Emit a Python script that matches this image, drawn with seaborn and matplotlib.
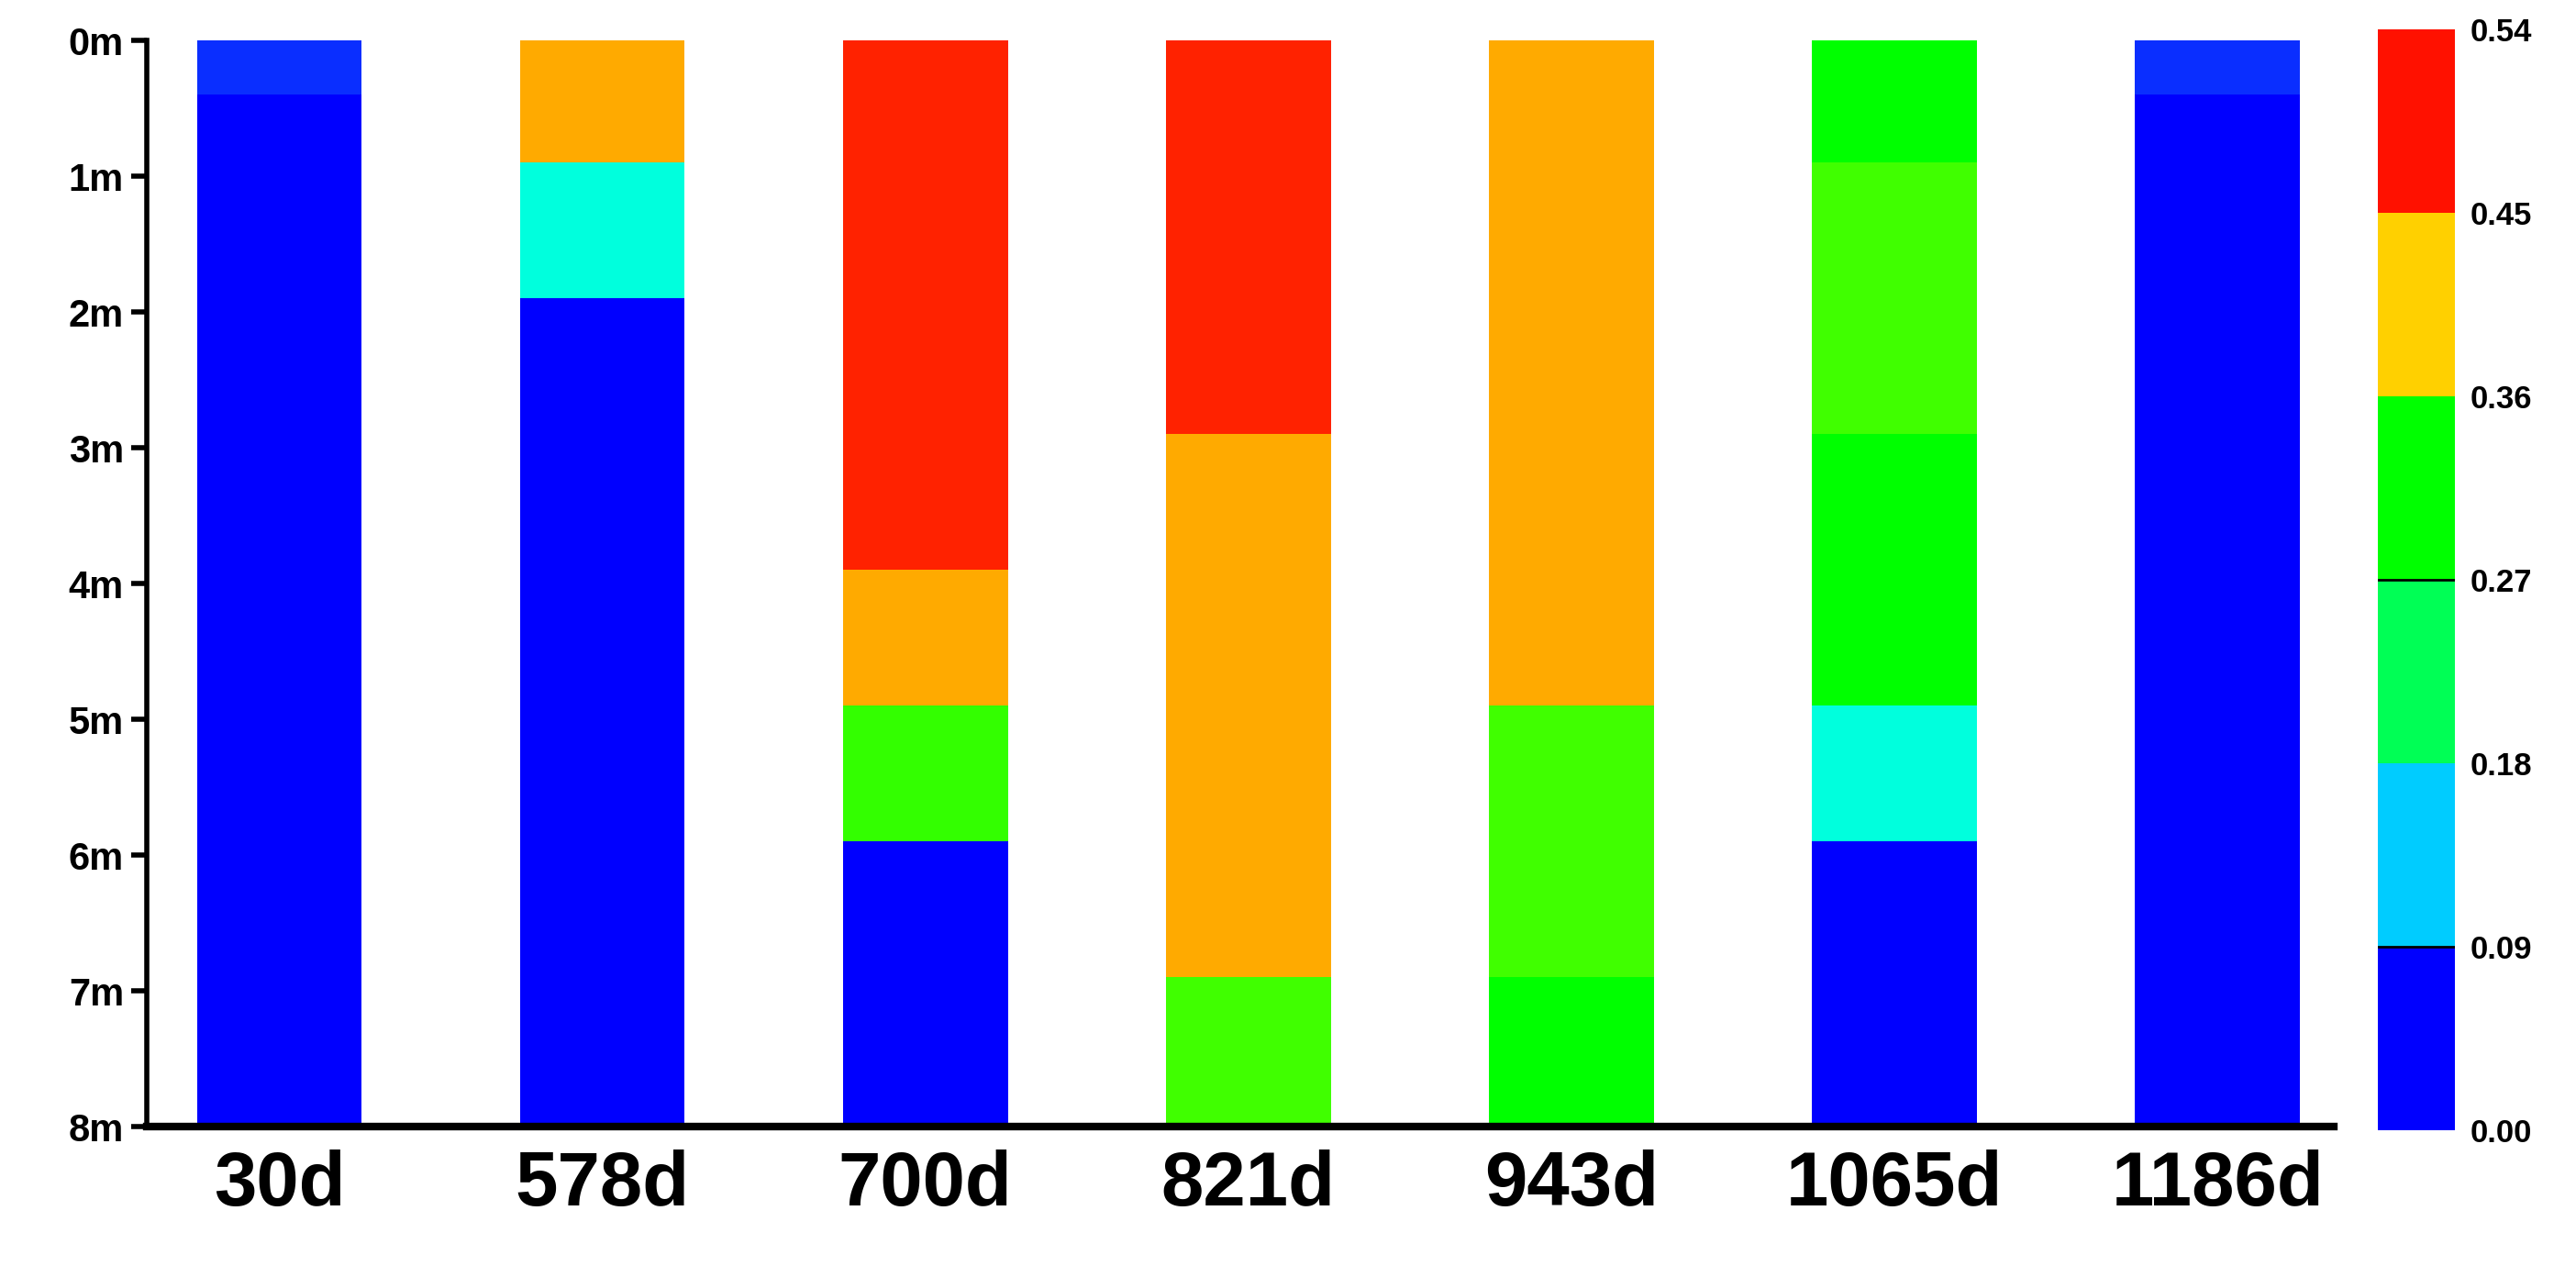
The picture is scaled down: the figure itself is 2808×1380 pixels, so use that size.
import matplotlib
matplotlib.use('Agg')
import matplotlib.pyplot as plt
import seaborn as sns
from matplotlib.colors import ListedColormap, BoundaryNorm
from matplotlib.colorbar import ColorbarBase

sns.set_style('white')
plt.rcParams['font.family'] = ['Liberation Sans', 'DejaVu Sans']
plt.rcParams['font.weight'] = 'bold'
plt.rcParams['text.color'] = 'black'
plt.rcParams['xtick.color'] = 'black'
plt.rcParams['ytick.color'] = 'black'

days = ['30d', '578d', '700d', '821d', '943d', '1065d', '1186d']

# segment boundaries (depth in m) and colours, top to bottom
seg_depths = [
    [0, 0.4, 7.97],
    [0, 0.9, 1.9, 7.97],
    [0, 3.9, 4.9, 5.9, 7.97],
    [0, 2.9, 6.9, 7.97],
    [0, 4.9, 6.9, 7.97],
    [0, 0.9, 2.9, 4.9, 5.9, 7.97],
    [0, 0.4, 7.97],
]
seg_colors = [
    ['#0A2EFF', '#0000FF'],
    ['#FFAA00', '#00FFDD', '#0000FF'],
    ['#FF2200', '#FFAA00', '#33FF00', '#0000FF'],
    ['#FF2200', '#FFAA00', '#40FF00'],
    ['#FFAA00', '#40FF00', '#00FF00'],
    ['#00FF00', '#40FF00', '#00FF00', '#00FFDD', '#0000FF'],
    ['#0A2EFF', '#0000FF'],
]

cbar_bounds = [0.00, 0.09, 0.18, 0.27, 0.36, 0.45, 0.54]
cbar_colors = ['#0000FF', '#00CCFF', '#00FF55', '#00FF00', '#FFD000', '#FF1100']

fig = plt.figure(figsize=(28.08, 13.8), dpi=100)
ax = fig.add_axes([0.057, 0.11, 0.849, 0.858])

for i, (d, c) in enumerate(zip(seg_depths, seg_colors)):
    for k in range(len(c)):
        ax.bar(i, d[k + 1] - d[k], bottom=d[k], width=0.51, color=c[k], linewidth=0)

ax.set_xlim(-0.41, 6.36)
ax.set_ylim(8, 0)
ax.set_yticks(range(9))
ax.set_yticklabels([f'{v}m' for v in range(9)], fontsize=30, fontweight='bold')
ax.set_xticks(range(len(days)))
ax.set_xticklabels(days, fontsize=60, fontweight='bold')
for s in ['top', 'right']:
    ax.spines[s].set_visible(False)
ax.spines['left'].set_linewidth(4)
ax.spines['bottom'].set_linewidth(6)
ax.spines['left'].set_color('black')
ax.spines['bottom'].set_color('black')
ax.tick_params(axis='y', left=True, length=12, width=4, pad=6)
ax.tick_params(axis='x', bottom=False, pad=14)

cax = fig.add_axes([0.923, 0.107, 0.03, 0.87])
cmap = ListedColormap(cbar_colors)
norm = BoundaryNorm(cbar_bounds, cmap.N)
cb = ColorbarBase(cax, cmap=cmap, norm=norm, ticks=cbar_bounds, orientation='vertical')
cb.outline.set_visible(False)
cb.ax.set_yticklabels([f'{v:.2f}' for v in cbar_bounds], fontsize=25, fontweight='bold')
cb.ax.tick_params(length=0, pad=12)
for v in [0.09, 0.27]:
    cax.axhline(v, color='black', linewidth=2)

fig.savefig('out.png', dpi=100, facecolor='white')
